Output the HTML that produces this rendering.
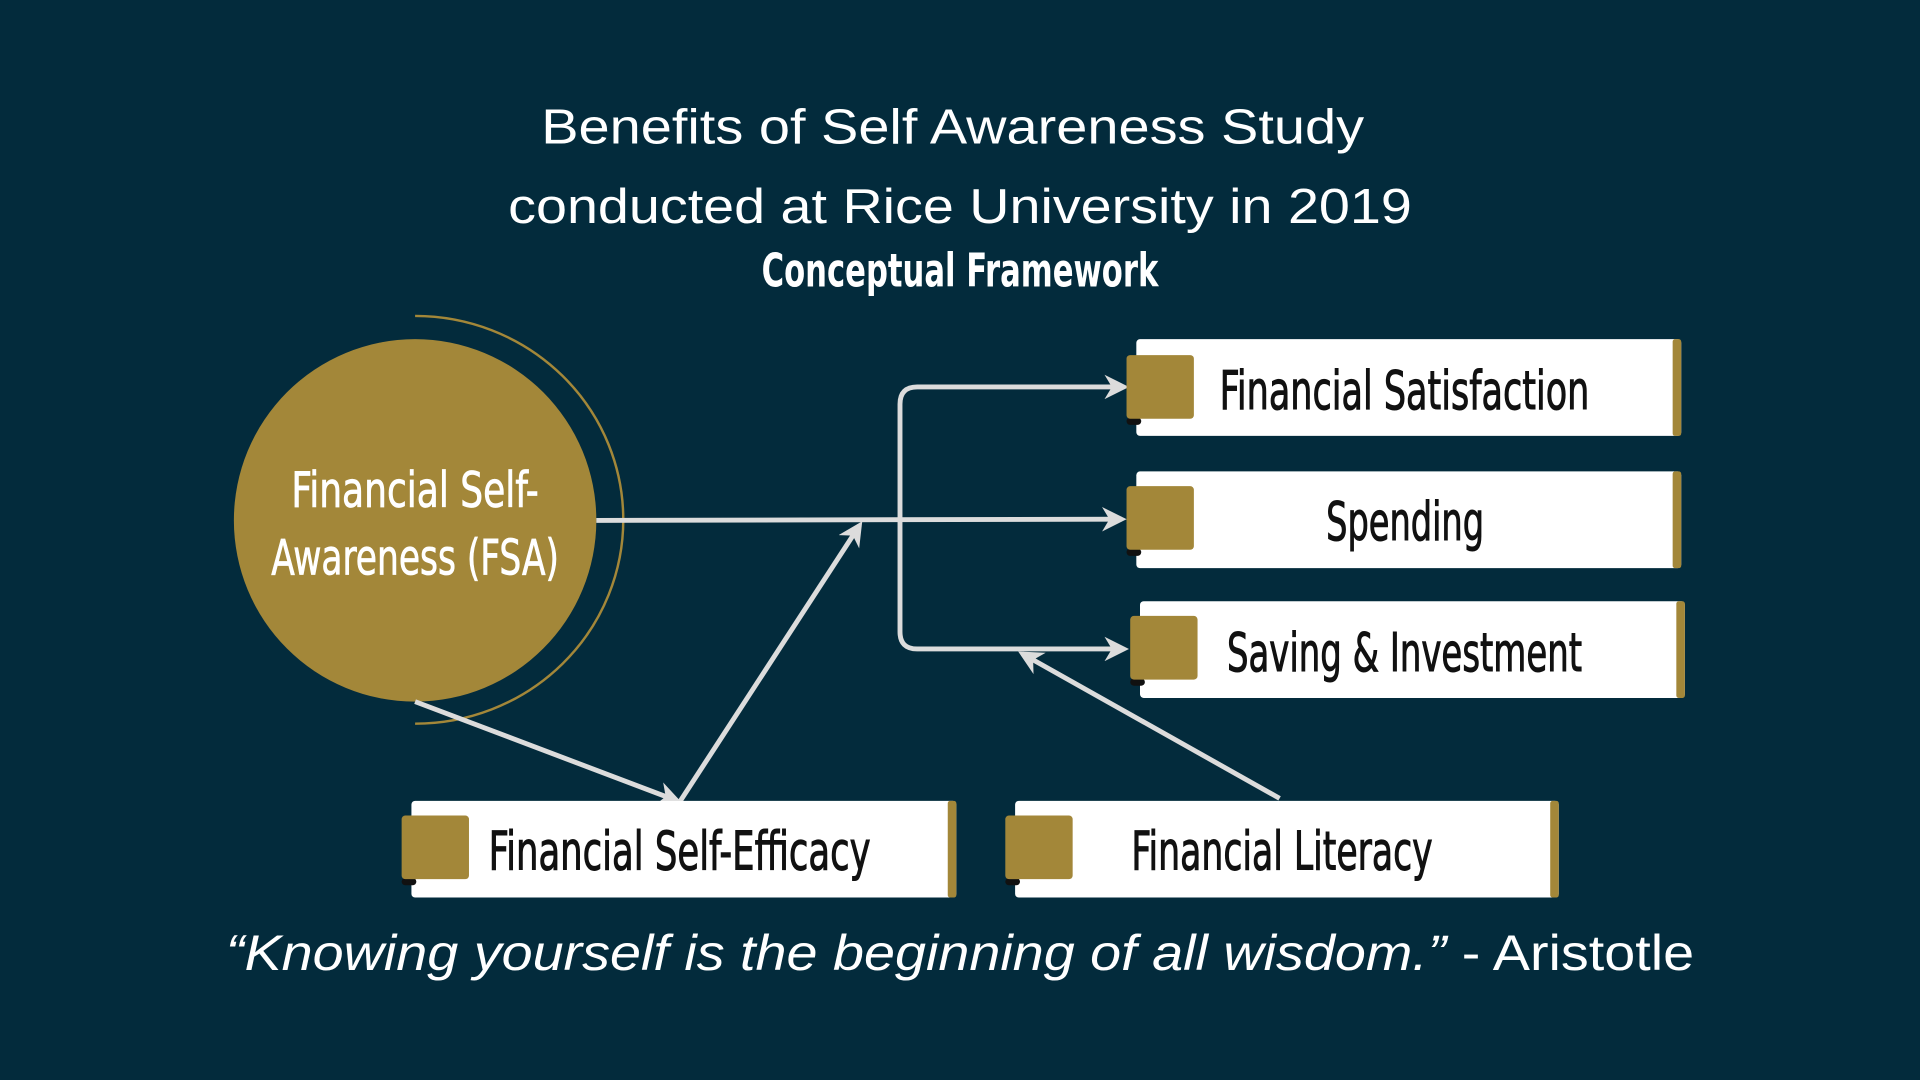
<!DOCTYPE html>
<html><head><meta charset="utf-8"><style>
html,body{margin:0;padding:0;background:#032b3c;}
svg{display:block;}
.c{font-family:"Liberation Sans Narrow","DejaVu Sans Condensed","Liberation Sans",sans-serif;}
</style></head><body>
<svg width="1920" height="1080" viewBox="0 0 1568 882" xmlns="http://www.w3.org/2000/svg">
<defs>
<marker id="ah" viewBox="0 0 10 10" refX="8" refY="5" markerWidth="5" markerHeight="5" orient="auto-start-reverse" markerUnits="strokeWidth">
<path d="M0,0 L10,5 L0,10 L3,5 Z" fill="#dcdcdc"/>
</marker>
</defs>
<rect width="1568" height="882" fill="#032b3c"/>
<g fill="#ffffff" font-family="Liberation Sans, sans-serif" text-anchor="middle">
<text x="778" y="117" font-size="40" textLength="672" lengthAdjust="spacingAndGlyphs">Benefits of Self Awareness Study</text>
<text x="784" y="182" font-size="40" textLength="738" lengthAdjust="spacingAndGlyphs">conducted at Rice University in 2019</text>
<text class="c" x="784" y="234" font-size="38" font-weight="bold" textLength="324" lengthAdjust="spacingAndGlyphs">Conceptual Framework</text>
</g>
<!-- circle -->
<path d="M339 258 A170 166.5 0 0 1 509 424.5 A170 166.5 0 0 1 339 591" fill="none" stroke="#a38739" stroke-width="2"/>
<circle cx="339" cy="425" r="148" fill="#a38739"/>
<g class="c" fill="#fff" stroke="#fff" stroke-width="0.6" font-size="40" text-anchor="middle">
<text x="339" y="414" textLength="202" lengthAdjust="spacingAndGlyphs">Financial Self-</text>
<text x="339" y="469" textLength="235" lengthAdjust="spacingAndGlyphs">Awareness (FSA)</text>
</g>
<!-- connectors -->
<g fill="none" stroke="#dcdcdc" stroke-width="4">
<path d="M487 425 L916 424" marker-end="url(#ah)"/>
<path d="M918 316 H749 Q735 316 735 330 V516 Q735 530 749 530 H918" marker-start="url(#ah)" marker-end="url(#ah)"/>
<path d="M339 573 L553 654" marker-end="url(#ah)"/>
<path d="M555 655 L702 429" marker-end="url(#ah)"/>
<path d="M1045 652 L835 534" marker-end="url(#ah)"/>
</g>
<!-- boxes -->
<g>
<rect x="928" y="277" width="445" height="79" rx="3" fill="#fff"/><rect x="1366" y="277" width="7" height="79" rx="2" fill="#a38739"/>
<rect x="920" y="341" width="12" height="6" rx="3" fill="#111"/><rect x="920" y="290" width="55" height="52" rx="3" fill="#a38739"/>
<rect x="928" y="385" width="445" height="79" rx="3" fill="#fff"/><rect x="1366" y="385" width="7" height="79" rx="2" fill="#a38739"/>
<rect x="920" y="448" width="12" height="6" rx="3" fill="#111"/><rect x="920" y="397" width="55" height="52" rx="3" fill="#a38739"/>
<rect x="931" y="491" width="445" height="79" rx="3" fill="#fff"/><rect x="1369" y="491" width="7" height="79" rx="2" fill="#a38739"/>
<rect x="923" y="554" width="12" height="6" rx="3" fill="#111"/><rect x="923" y="503" width="55" height="52" rx="3" fill="#a38739"/>
<rect x="336" y="654" width="445" height="79" rx="3" fill="#fff"/><rect x="774" y="654" width="7" height="79" rx="2" fill="#a38739"/>
<rect x="328" y="717" width="12" height="6" rx="3" fill="#111"/><rect x="328" y="666" width="55" height="52" rx="3" fill="#a38739"/>
<rect x="829" y="654" width="444" height="79" rx="3" fill="#fff"/><rect x="1266" y="654" width="7" height="79" rx="2" fill="#a38739"/>
<rect x="821" y="717" width="12" height="6" rx="3" fill="#111"/><rect x="821" y="666" width="55" height="52" rx="3" fill="#a38739"/>
</g>
<g class="c" fill="#111" stroke="#111" stroke-width="0.8" font-size="44">
<text x="996" y="334" textLength="302" lengthAdjust="spacingAndGlyphs">Financial Satisfaction</text>
<text x="1083" y="441" textLength="129" lengthAdjust="spacingAndGlyphs">Spending</text>
<text x="1002" y="548" textLength="290" lengthAdjust="spacingAndGlyphs">Saving &amp; Investment</text>
<text x="399" y="710" textLength="312" lengthAdjust="spacingAndGlyphs">Financial Self-Efficacy</text>
<text x="924" y="710" textLength="246" lengthAdjust="spacingAndGlyphs">Financial Literacy</text>
</g>
<text x="784" y="792" font-family="Liberation Sans, sans-serif" font-size="41" fill="#fff" text-anchor="middle" textLength="1199" lengthAdjust="spacingAndGlyphs"><tspan font-style="italic">“Knowing yourself is the beginning of all wisdom.”</tspan> - Aristotle</text>
</svg>
</body></html>
